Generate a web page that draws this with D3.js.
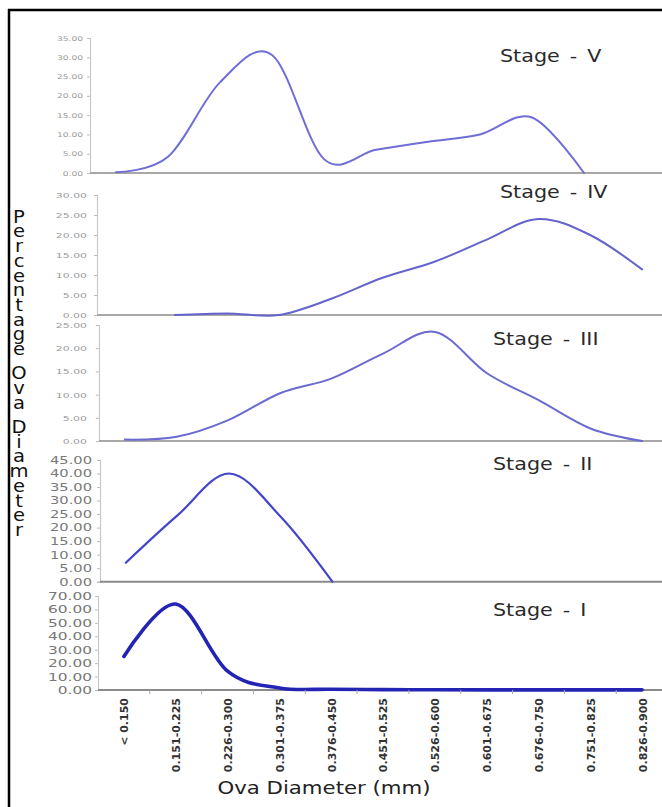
<!DOCTYPE html>
<html>
<head>
<meta charset="utf-8">
<script src="https://cdn.jsdelivr.net/npm/d3@7"></script>
<style>
  html, body { margin: 0; padding: 0; background: #fff; }
  svg { display: block; }
  text { font-family: "DejaVu Sans", Verdana, sans-serif; }
</style>
</head>
<body>
<svg id="chart" width="662" height="807"></svg>
<script>
// Ova diameter classes (mm)
const categories = [
  "< 0.150", "0.151-0.225", "0.226-0.300", "0.301-0.375", "0.376-0.450",
  "0.451-0.525", "0.526-0.600", "0.601-0.675", "0.676-0.750", "0.751-0.825", "0.826-0.900"
];

// Percentage of ova in each class, one array per maturity stage
const stageV   = [0.2, 4.2, 23.5, 30.6, 3.6, 6.0, 8.1, 10.0, 14.4, 0.0, null];
const stageIV  = [null, 0.0, 0.4, 0.0, 4.0, 9.3, 13.3, 18.8, 24.0, 20.0, 11.4];
const stageIII = [0.3, 0.9, 4.5, 10.3, 13.5, 18.9, 23.5, 14.6, 8.8, 2.7, 0.0];
const stageII  = [7.0, 24.5, 40.0, 24.0, 0.0, null, null, null, null, null, null];
const stageI   = [25.0, 64.0, 14.0, 1.5, 0.6, 0.3, 0.2, 0.1, 0.1, 0.1, 0.1];

const stageNames = ["Stage - V", "Stage - IV", "Stage - III", "Stage - II", "Stage - I"];
const yMaxima    = [35, 30, 25, 45, 70];
const yStepSizes = [5, 5, 5, 5, 10];

const yTitle = "Percentage Ova Diameter";
const xTitle = "Ova Diameter (mm)";

const svg = d3.select("#chart");

// Frame around the figure
svg.append("line").attr("x1", 8).attr("x2", 662).attr("y1", 10).attr("y2", 10)
  .attr("stroke", "#000").attr("stroke-width", 2.5);
svg.append("line").attr("x1", 9).attr("x2", 9).attr("y1", 9).attr("y2", 807)
  .attr("stroke", "#000").attr("stroke-width", 2.5);

// Widen text horizontally around its anchor point
function widen(sel, sx) {
  sel.each(function () {
    const t = d3.select(this);
    const x = +t.attr("x") || 0, y = +t.attr("y") || 0;
    t.attr("x", 0).attr("y", 0).attr("transform", `translate(${x},${y}) scale(${sx},1)`);
  });
}

// Panel layout, top to bottom
const panels = [
  { data: stageV,   axisX: 90,  y0: 173,   y1: 38,  right: 662, labelGap: 7,  font: 6.5,  tickColor: "#9a9a9a",
    color: "#6e6ed6", width: 2.0, stageX: 500, stageY: 62 },
  { data: stageIV,  axisX: 97,  y0: 315,   y1: 195, right: 668, labelGap: 10, font: 7.8,  tickColor: "#9a9a9a",
    color: "#6464cc", width: 2.0, stageX: 500, stageY: 198 },
  { data: stageIII, axisX: 99,  y0: 441,   y1: 325, right: 668, labelGap: 12, font: 7.8,  tickColor: "#9a9a9a",
    color: "#6a6ad0", width: 2.0, stageX: 493, stageY: 345 },
  { data: stageII,  axisX: 100, y0: 581.7, y1: 460, right: 668, labelGap: 8,  font: 10.5, tickColor: "#7a7a7a",
    color: "#4545cc", width: 2.2, stageX: 493, stageY: 470 },
  { data: stageI,   axisX: 98,  y0: 690,   y1: 596, right: 668, labelGap: 6,  font: 11,   tickColor: "#777",
    color: "#2424b4", width: 3.6, stageX: 493, stageY: 616 }
];

let lastX = null;

panels.forEach((p, i) => {
  const g = svg.append("g");

  const x = d3.scalePoint().domain(categories).range([p.axisX, p.right]).padding(0.5);
  const y = d3.scaleLinear().domain([0, yMaxima[i]]).range([p.y0, p.y1]);
  if (i === panels.length - 1) lastX = x;

  // y axis
  const yAxis = d3.axisLeft(y)
    .tickValues(d3.range(0, yMaxima[i] + 0.001, yStepSizes[i]))
    .tickFormat(d3.format(".2f"))
    .tickSize(3)
    .tickPadding(p.labelGap - 3);
  const ya = g.append("g").attr("transform", `translate(${p.axisX},0)`).call(yAxis);
  ya.select(".domain").attr("stroke", "#c8c8c8").attr("stroke-width", 1.2);
  ya.selectAll(".tick line").attr("stroke", "#bdbdbd");
  ya.selectAll(".tick text")
    .attr("fill", p.tickColor)
    .style("font-size", p.font + "px")
    .style("font-family", "'DejaVu Sans', Verdana, sans-serif");
  widen(ya.selectAll(".tick text"), 1.4);

  // x axis baseline
  g.append("line")
    .attr("x1", p.axisX).attr("x2", 662)
    .attr("y1", p.y0).attr("y2", p.y0)
    .attr("stroke", i >= 3 ? "#8a8a8a" : "#a8a8a8")
    .attr("stroke-width", 2);

  // smoothed distribution line
  const line = d3.line()
    .defined(d => d != null)
    .x((d, j) => x(categories[j]))
    .y(d => y(d))
    .curve(d3.curveCardinal.tension(0));
  g.append("path")
    .datum(p.data)
    .attr("fill", "none")
    .attr("stroke", p.color)
    .attr("stroke-width", p.width)
    .attr("stroke-linejoin", "round")
    .attr("stroke-linecap", "round")
    .attr("d", line);

  // stage name
  const st = g.append("text")
    .attr("x", p.stageX).attr("y", p.stageY)
    .attr("fill", "#2a2a2a")
    .style("font-size", "18px")
    .style("word-spacing", "3px")
    .text(stageNames[i]);
  widen(st, 1.15);
});

// x axis ticks and category labels under the bottom panel
const bottom = panels[panels.length - 1];
const xAxis = d3.axisBottom(lastX).tickSize(0).tickPadding(8);
const xa = svg.append("g").attr("transform", `translate(0,${bottom.y0})`).call(xAxis);
xa.select(".domain").remove();
xa.selectAll(".tick text")
  .attr("transform", "rotate(-90)")
  .attr("x", -8)
  .attr("y", 0)
  .attr("dy", "0.36em")
  .attr("text-anchor", "end")
  .attr("fill", "#333")
  .style("font-size", "11px")
  .style("font-weight", "bold")
  .style("font-family", "'DejaVu Sans', Verdana, sans-serif");

// boundary tick marks between classes
const step = lastX.step();
svg.append("g").selectAll("line")
  .data(categories.slice(1))
  .join("line")
  .attr("x1", d => lastX(d) - step / 2).attr("x2", d => lastX(d) - step / 2)
  .attr("y1", bottom.y0).attr("y2", bottom.y0 + 4)
  .attr("stroke", "#aaa").attr("stroke-width", 1);

// x axis title
const xt = svg.append("text")
  .attr("x", 324).attr("y", 794)
  .attr("text-anchor", "middle")
  .attr("fill", "#222")
  .style("font-size", "17px")
  .text(xTitle);
widen(xt, 1.25);

// vertical y axis title with upright stacked letters
svg.append("text")
  .attr("transform", "translate(19,207) scale(1.15,1)")
  .attr("x", 0).attr("y", 0)
  .attr("fill", "#111")
  .style("font-size", "17px")
  .style("writing-mode", "vertical-rl")
  .style("text-orientation", "upright")
  .style("letter-spacing", "-4.8px")
  .style("word-spacing", "-5px")
  .text(yTitle);
</script>
</body>
</html>
